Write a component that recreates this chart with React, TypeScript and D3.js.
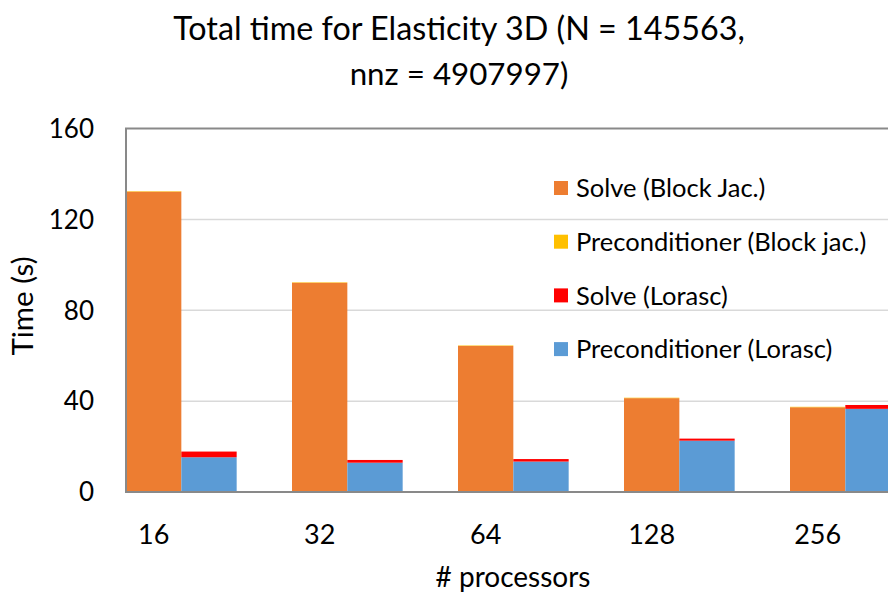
import React, { useEffect } from 'react';
import * as d3 from 'd3';

const categories = ['16', '32', '64', '128', '256'];
const solveBlockJac = [132.2, 92.1, 64.3, 41.3, 37.3];
const precBlockJac = [0.2, 0.2, 0.2, 0.2, 0.2];
const solveLorasc = [2.5, 1.2, 1.1, 0.9, 1.7];
const precLorasc = [15.3, 12.9, 13.4, 22.6, 36.6];
const yTicks = [0, 40, 80, 120, 160];
const legendNames = [
  'Solve (Block Jac.)',
  'Preconditioner (Block jac.)',
  'Solve (Lorasc)',
  'Preconditioner (Lorasc)',
];
const legendColors = ['#ED7D31', '#FFC000', '#FF0000', '#5B9BD5'];
const titleLines = ['Total time for Elasticity 3D (N = 145563,', 'nnz = 4907997)'];

const W = 888;
const H = 594;
const FONT = 'Lato, "Open Sans", sans-serif';

export default function App() {
  useEffect(() => {
    document.body.style.margin = '0';
  }, []);

  const left = 126;
  const top = 128.5;
  const bottom = 492;
  const groupW = 166;

  const x = d3
    .scaleBand<string>()
    .domain(categories)
    .range([left, left + groupW * categories.length])
    .paddingInner(0)
    .paddingOuter(0);
  const y = d3.scaleLinear().domain([0, 160]).range([bottom, top]);
  const bw = x.bandwidth() / 3;

  const rows = categories.map((c, i) => ({
    cat: c,
    solveBJ: solveBlockJac[i],
    precBJ: precBlockJac[i],
    precL: precLorasc[i],
    solveL: solveLorasc[i],
  }));

  const stackBJ = d3.stack<any>().keys(['solveBJ', 'precBJ'])(rows);
  const stackL = d3.stack<any>().keys(['precL', 'solveL'])(rows);
  const colBJ: Record<string, string> = { solveBJ: legendColors[0], precBJ: legendColors[1] };
  const colL: Record<string, string> = { precL: legendColors[3], solveL: legendColors[2] };

  return (
    <svg width={W} height={H} style={{ display: 'block', background: '#fff' }} fontFamily={FONT}>
      {/* gridlines */}
      {yTicks.slice(1, -1).map((t) => (
        <line key={t} x1={left} x2={W} y1={y(t)} y2={y(t)} stroke="#D9D9D9" strokeWidth={1.5} />
      ))}
      {/* bars */}
      {stackBJ.map((s) =>
        s.map((d, i) => (
          <rect
            key={s.key + i}
            x={x(categories[i])!}
            y={y(d[1])}
            width={bw}
            height={y(d[0]) - y(d[1])}
            fill={colBJ[s.key]}
          />
        ))
      )}
      {stackL.map((s) =>
        s.map((d, i) => (
          <rect
            key={s.key + i}
            x={x(categories[i])! + bw}
            y={y(d[1])}
            width={bw}
            height={y(d[0]) - y(d[1])}
            fill={colL[s.key]}
          />
        ))
      )}
      {/* plot frame */}
      <path
        d={`M${W},${top} H${left} V${bottom} H${W}`}
        fill="none"
        stroke="#898989"
        strokeWidth={2}
      />
      {/* y ticks */}
      {yTicks.map((t) => (
        <text key={t} x={94} y={y(t)} dy="0.36em" textAnchor="end" fontSize={26} fill="#000">
          {t}
        </text>
      ))}
      {/* x labels */}
      {categories.map((c) => (
        <text key={c} x={x(c)! + bw / 2} y={544} textAnchor="middle" fontSize={27} fill="#000">
          {c}
        </text>
      ))}
      {/* axis titles */}
      <text x={513} y={587} textAnchor="middle" fontSize={28} fill="#000">
        # processors
      </text>
      <text
        transform={`translate(33,306) rotate(-90)`}
        textAnchor="middle"
        fontSize={29.5}
        fill="#000"
      >
        Time (s)
      </text>
      {/* title */}
      <text x={459} y={40} textAnchor="middle" fontSize={32.3} fill="#000">
        {titleLines[0]}
      </text>
      <text x={459} y={85} textAnchor="middle" fontSize={31.3} fill="#000">
        {titleLines[1]}
      </text>
      {/* legend */}
      {legendNames.map((n, i) => (
        <g key={n} transform={`translate(554,${188 + i * 53.7})`}>
          <rect x={0} y={-7} width={14} height={14} fill={legendColors[i]} />
          <text x={22} y={0} dy="0.36em" fontSize={25.5} fill="#000">
            {n}
          </text>
        </g>
      ))}
    </svg>
  );
}
